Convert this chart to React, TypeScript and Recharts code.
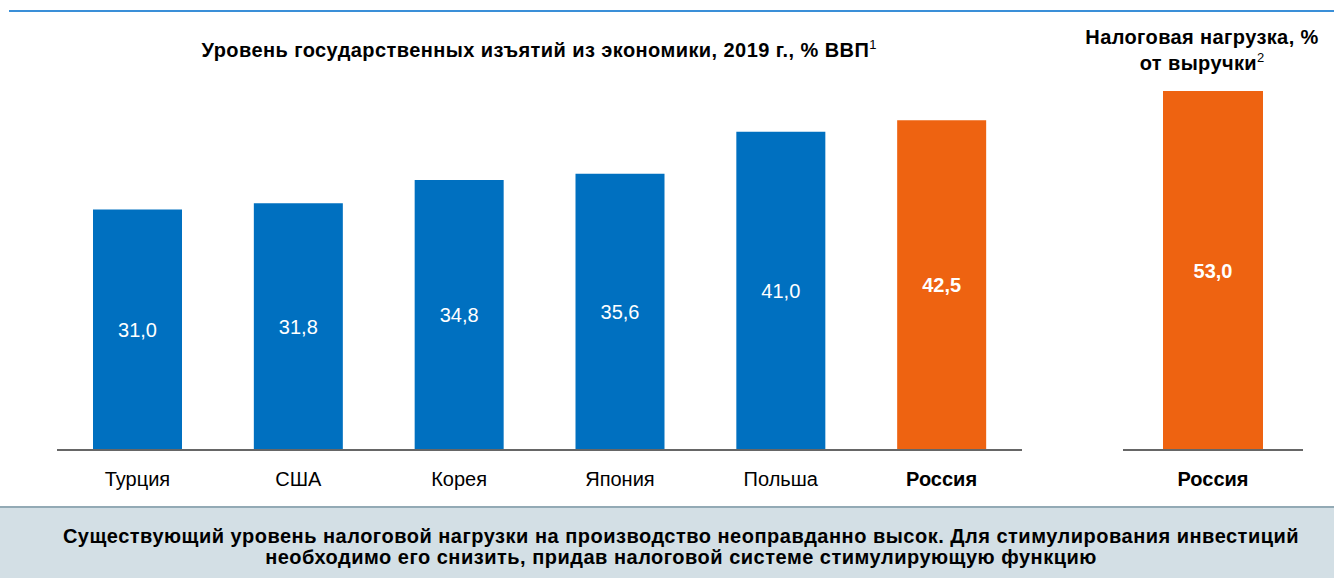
import React from 'react';
import { BarChart, Bar, XAxis, YAxis, LabelList, Cell } from 'recharts';

const countries = ['Турция', 'США', 'Корея', 'Япония', 'Польша', 'Россия'];
const gdpShare = [31.0, 31.8, 34.8, 35.6, 41.0, 42.5];
const rightCategories = ['Россия'];
const taxLoad = [53.0];

const leftTitle = 'Уровень государственных изъятий из экономики, 2019 г., % ВВП';
const rightTitle1 = 'Налоговая нагрузка, %';
const rightTitle2 = 'от выручки';
const footer1 = 'Существующий уровень налоговой нагрузки на производство неоправданно высок. Для стимулирования инвестиций';
const footer2 = 'необходимо его снизить, придав налоговой системе стимулирующую функцию';

const BLUE = '#0070C0';
const ORANGE = '#EE6311';
const FONT = '"Liberation Sans", Arial, sans-serif';

const leftData = countries.map((c, i) => ({ name: c, value: gdpShare[i] }));
const rightData = rightCategories.map((c, i) => ({ name: c, value: taxLoad[i] }));

const fmt = (v: number) => v.toFixed(1).replace('.', ',');

const Tick = (props: any) => {
  const { x, y, payload } = props;
  const bold = payload.value === 'Россия';
  return (
    <text x={x} y={y} dy={28} textAnchor="middle" fontSize={20} fontFamily={FONT}
      fontWeight={bold ? 'bold' : 'normal'} fill="#000">
      {payload.value}
    </text>
  );
};

const makeLabel = (boldAll: boolean, boldIndex: number) => (props: any) => {
  const { x, y, width, height, value, index } = props;
  const bold = boldAll || index === boldIndex;
  return (
    <text x={x + width / 2} y={y + height / 2} dy={7} textAnchor="middle" fontSize={20}
      fontFamily={FONT} fontWeight={bold ? 'bold' : 'normal'} fill="#fff">
      {fmt(value)}
    </text>
  );
};

const supStyle: React.CSSProperties = { fontWeight: 'normal', fontSize: 13, position: 'relative', top: -8, letterSpacing: 0 };

export default function App() {
  return (
    <div style={{ position: 'absolute', left: 0, top: 0, width: 1334, height: 578, background: '#fff', fontFamily: FONT, overflow: 'hidden' }}>
      <div style={{ position: 'absolute', left: 9, top: 10, width: 1325, height: 2, background: '#3A8FD8' }} />
      <div style={{ position: 'absolute', left: 0, top: 38, width: 1078, textAlign: 'center', fontSize: 20, fontWeight: 'bold', lineHeight: '24px', letterSpacing: 0.43, color: '#000', whiteSpace: 'nowrap' }}>
        {leftTitle}<span style={supStyle}>1</span>
      </div>
      <div style={{ position: 'absolute', left: 1082, top: 24, width: 240, textAlign: 'center', fontSize: 20, fontWeight: 'bold', lineHeight: '26px', letterSpacing: 0.39, color: '#000', whiteSpace: 'nowrap' }}>
        <div>{rightTitle1}</div>
        <div>{rightTitle2}<span style={supStyle}>2</span></div>
      </div>
      <div style={{ position: 'absolute', left: 0, top: 0 }}>
        <BarChart width={1040} height={500} data={leftData} margin={{ top: 62, right: 18, bottom: 10, left: 57 }} barSize={89}>
          <YAxis hide domain={[0, 50]} />
          <XAxis dataKey="name" height={40} tickLine={false} axisLine={{ stroke: '#666', strokeWidth: 2 }} tick={<Tick />} interval={0} />
          <Bar dataKey="value" isAnimationActive={false}>
            {leftData.map((d, i) => (
              <Cell key={i} fill={d.name === 'Россия' ? ORANGE : BLUE} />
            ))}
            <LabelList dataKey="value" content={makeLabel(false, 5)} />
          </Bar>
        </BarChart>
      </div>
      <div style={{ position: 'absolute', left: 1080, top: 0 }}>
        <BarChart width={254} height={500} data={rightData} margin={{ top: 62, right: 31, bottom: 10, left: 43 }} barSize={100}>
          <YAxis hide domain={[0, 57.3]} />
          <XAxis dataKey="name" height={40} tickLine={false} axisLine={{ stroke: '#666', strokeWidth: 2 }} tick={<Tick />} interval={0} />
          <Bar dataKey="value" isAnimationActive={false} fill={ORANGE}>
            <LabelList dataKey="value" content={makeLabel(true, 0)} />
          </Bar>
        </BarChart>
      </div>
      <div style={{ position: 'absolute', left: 0, top: 506, width: 1334, height: 72, background: '#D3DFE5', borderTop: '2px solid #93AAB5', boxSizing: 'border-box' }}>
        <div style={{ position: 'absolute', left: 14, top: 18, width: 1334, textAlign: 'center', fontSize: 20, fontWeight: 'bold', lineHeight: '21px', letterSpacing: 0.5, color: '#000', whiteSpace: 'nowrap' }}>
          <div>{footer1}</div>
          <div>{footer2}</div>
        </div>
      </div>
    </div>
  );
}
